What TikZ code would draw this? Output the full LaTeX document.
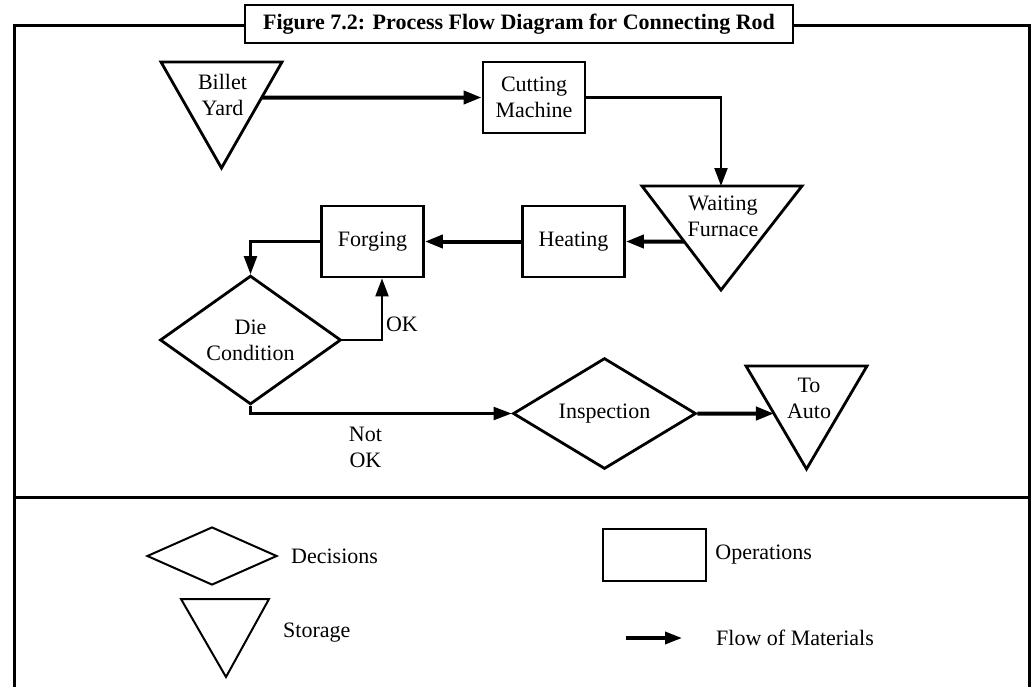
\documentclass[tikz,border=0pt]{standalone}
\usepackage{fontspec}
\setmainfont{Liberation Serif}
\usetikzlibrary{shapes.geometric, arrows.meta, positioning}
\newcommand{\diagfont}{\fontsize{22}{26}\selectfont}
\newcommand{\titlefont}{\bfseries\fontsize{22}{26}\selectfont}
\tikzset{
  opbox/.style={rectangle, draw, fill=white, line width=2.8pt,
    minimum width=102pt, minimum height=71pt, align=center,
    inner sep=0pt, font=\diagfont},
  decbox/.style={diamond, draw, fill=white, line width=2.8pt,
    minimum width=181pt, minimum height=94pt, align=center,
    inner sep=0pt, font=\diagfont},
  store/.style={draw, fill=white, line width=2.8pt, line join=miter},
  lbl/.style={align=center, font=\diagfont, inner sep=0pt},
  tag/.style={align=center, font=\diagfont, inner sep=3pt},
  titlebox/.style={draw, fill=white, line width=2.5pt,
    minimum width=548pt, minimum height=38pt, inner sep=0pt, font=\titlefont},
  flow/.style={-{Triangle[length=18pt,width=13pt]}, line width=4pt},
  link/.style={-{Triangle[length=18pt,width=13pt]}, line width=2.2pt},
  frame/.style={line width=3pt}
}

\begin{document}
\begin{tikzpicture}[x=10pt, y=-10pt]
  \useasboundingbox (0,0) rectangle (103.2,68.6);

  % Frame and title
  \draw[frame] (1.4,69) |- (24.5,2.5);
  \draw[frame] (79.3,2.5) -| (102.9,69);
  \draw[frame] (1.4,49.7) -- (102.9,49.7);
  \node[titlebox] (title) at (51.9,2.4) {Figure 7.2: Process Flow Diagram for Connecting Rod};

  % Operations
  \node[opbox] (cm) at (53.4,9.75) {Cutting\\Machine};
  \node[opbox] (hb) at (57.35,24.15) {Heating};
  \node[opbox] (fg) at (37.25,24.15) {Forging};

  % Decisions
  \node[decbox] (dc) at (25.05,34.0) {Die\\Condition};
  \node[decbox, minimum width=183pt, minimum height=95pt] (ins) at (60.45,41.35) {Inspection};

  % Storage
  \draw[store] (16.1,6.2) coordinate (bytl) -- (28.2,6.2) coordinate (bytr) -- (22.15,16.8) coordinate (bybot) -- cycle;
  \node[lbl] (by) at (22.25,9.5) {Billet\\Yard};
  \draw[store] (64.2,18.6) coordinate (wftl) -- (80.2,18.6) coordinate (wftr) -- (72.1,29.0) coordinate (wfbot) -- cycle;
  \node[lbl] (wf) at (72.3,21.6) {Waiting\\Furnace};
  \draw[store] (74.6,36.6) coordinate (tatl) -- (86.7,36.6) coordinate (tatr) -- (80.65,46.9) coordinate (tabot) -- cycle;
  \node[lbl] (ta) at (80.9,39.8) {To\\Auto};

  % Flow
  \draw[flow] (intersection of bytr--bybot and cm.west--cm.east) -- (cm.west);
  \draw[link] (cm.east) -| (wfbot |- wftl);
  \draw[flow] (intersection of wftl--wfbot and hb.west--hb.east) -- (hb.east);
  \draw[flow] (hb.west) -- (fg.east);
  \draw[link] (fg.west) -| (dc.north);
  \draw[link] (dc.east) -| ([xshift=9.5pt]fg.south) node[tag, pos=0.63, right] {OK};
  \draw[link] (dc.south) |- (ins.west) node[tag, pos=0.72, below=9pt] {Not\\OK};
  \draw[flow] (ins.east) -- (intersection of ins.west--ins.east and tatl--tabot);

  % Legend
  \node[decbox, line width=2pt, minimum width=130pt, minimum height=58pt] (ldec) at (21.2,55.6) {};
  \node[lbl, right=13pt of ldec] (ldectxt) {Decisions};
  \node[opbox, line width=2.4pt, minimum width=103pt, minimum height=52pt] (lop) at (65.45,55.5) {};
  \node[lbl, right=8pt of lop] (loptxt) {Operations};
  \draw[store, line width=2pt] (18.1,59.9) -- (26.9,59.9) -- (22.6,67.7) -- cycle;
  \node[lbl, anchor=west] (lsttxt) at (28.3,63.3) {Storage};
  \draw[line width=3.5pt, -{Triangle[length=17pt,width=12pt]}] (62.6,63.8) -- (68.2,63.8);
  \node[lbl, anchor=west] (lfltxt) at (71.6,63.8) {Flow of Materials};
\end{tikzpicture}
\end{document}
